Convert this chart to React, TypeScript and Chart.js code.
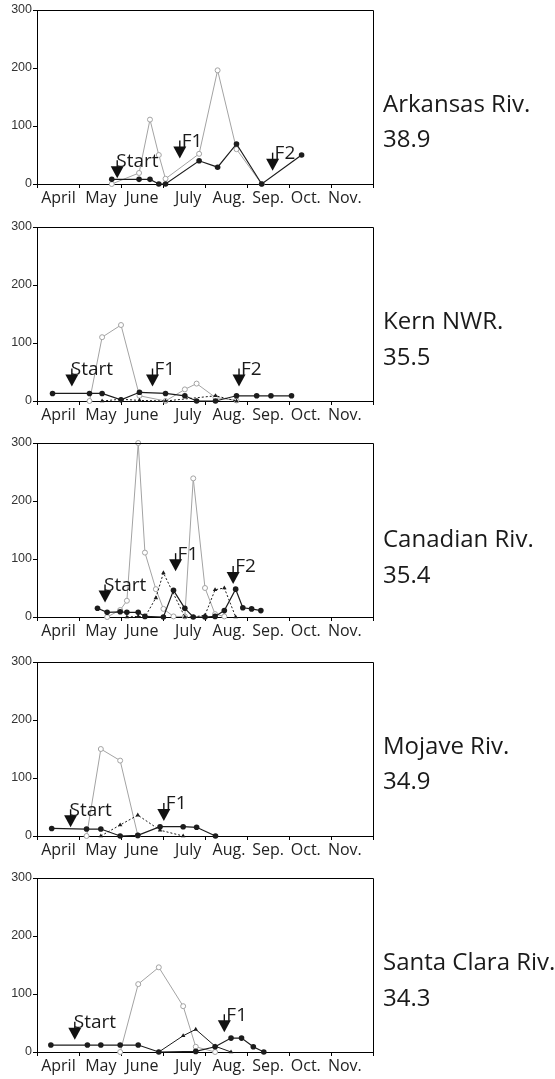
import React, { useEffect, useRef } from 'react';
import { Chart, registerables } from 'chart.js';

Chart.register(...registerables);

// ---------- shared axis data ----------
const months = ['April', 'May', 'June', 'July', 'Aug.', 'Sep.', 'Oct.', 'Nov.'];
const monthLabelAt = [0.51, 1.52, 2.5, 3.6, 4.57, 5.5, 6.4, 7.33];
const monthBounds = [0, 1, 2, 3, 4, 5, 6, 7, 8];
const yTickValues = [0, 100, 200, 300];

// ---------- Arkansas Riv. ----------
const arkBlackX = [1.78, 2.43, 2.69, 2.9, 3.06, 3.86, 4.3, 4.75, 5.35, 6.3];
const arkBlackY = [8, 8, 8, 0, 0, 40, 29, 69, 0, 50];
const arkGreyX = [1.78, 2.43, 2.69, 2.9, 3.06, 3.86, 4.3, 4.75, 5.35];
const arkGreyY = [0, 19, 111, 50, 9, 52, 196, 60, 0];
const arkArrowX = [1.91, 3.4, 5.61];
const arkArrowY = [10, 44, 23];
const arkArrowText = ['Start', 'F1', 'F2'];

// ---------- Kern NWR. ----------
const kernBlackX = [0.37, 1.25, 1.55, 2.0, 2.44, 3.06, 3.52, 3.8, 4.25, 4.75, 5.23, 5.57, 6.06];
const kernBlackY = [13, 13, 13, 2, 15, 13, 9, 0, 0, 9, 9, 9, 9];
const kernGreyX = [1.25, 1.55, 2.0, 2.44, 3.06, 3.52, 3.8, 4.25, 4.75];
const kernGreyY = [0, 110, 131, 9, 0, 20, 30, 6, 1];
const kernTriX = [1.55, 2.0, 2.44, 3.06, 4.25, 4.75];
const kernTriY = [0, 3, 1, 0, 9, 0];
const kernArrowX = [0.83, 2.75, 4.81];
const kernArrowY = [25, 25, 25];
const kernArrowText = ['Start', 'F1', 'F2'];

// ---------- Canadian Riv. ----------
const canBlackX = [1.44, 1.67, 1.98, 2.14, 2.41, 2.57, 3.01, 3.25, 3.52, 3.72, 4.0, 4.24, 4.46, 4.73, 4.9, 5.11, 5.33];
const canBlackY = [15, 8, 9, 8, 8, 1, 0, 46, 15, 0, 0, 1, 11, 48, 16, 14, 11];
const canGreyX = [1.67, 1.98, 2.14, 2.41, 2.57, 2.83, 3.01, 3.25, 3.52, 3.72, 4.0, 4.24, 4.46];
const canGreyY = [0, 12, 28, 300, 111, 48, 14, 1, 1, 239, 50, 5, 1];
const canTriX = [2.14, 2.41, 2.57, 2.83, 3.01, 3.52, 3.72, 4.0, 4.24, 4.46, 4.73];
const canTriY = [0, 1, 0, 33, 76, 0, 0, 3, 47, 50, 0];
const canArrowX = [1.62, 3.3, 4.67];
const canArrowY = [25, 79, 57];
const canArrowText = ['Start', 'F1', 'F2'];

// ---------- Mojave Riv. ----------
const mojBlackX = [0.35, 1.18, 1.52, 1.98, 2.4, 2.93, 3.48, 3.8, 4.25];
const mojBlackY = [13, 12, 12, 0, 1, 16, 16, 15, 0];
const mojGreyX = [1.18, 1.52, 1.98, 2.4];
const mojGreyY = [0, 150, 130, 1];
const mojTriX = [1.52, 1.98, 2.4, 2.93, 3.48];
const mojTriY = [0, 19, 36, 10, 0];
const mojArrowX = [0.8, 3.02];
const mojArrowY = [15, 26];
const mojArrowText = ['Start', 'F1'];

// ---------- Santa Clara Riv. ----------
const scBlackX = [0.33, 1.2, 1.52, 1.98, 2.41, 2.9, 3.78, 4.24, 4.62, 4.87, 5.15, 5.4];
const scBlackY = [12, 12, 12, 12, 12, 0, 1, 9, 24, 24, 9, 0];
const scGreyX = [1.98, 2.41, 2.9, 3.48, 3.78, 4.24];
const scGreyY = [0, 117, 146, 79, 9, 0];
const scTriX = [2.9, 3.48, 3.78, 4.24, 4.62];
const scTriY = [0, 28, 39, 10, 0];
const scArrowX = [0.9, 4.46];
const scArrowY = [21, 34];
const scArrowText = ['Start', 'F1'];

// ---------- site labels ----------
const siteNames = ['Arkansas Riv.', 'Kern NWR.', 'Canadian Riv.', 'Mojave Riv.', 'Santa Clara Riv.'];
const siteValues = ['38.9', '35.5', '35.4', '34.9', '34.3'];

type Panel = {
  blackX: number[]; blackY: number[];
  greyX: number[]; greyY: number[];
  triX: number[] | null; triY: number[] | null; triDashed: boolean;
  arrowX: number[]; arrowY: number[]; arrowText: string[];
};

const panels: Panel[] = [
  { blackX: arkBlackX, blackY: arkBlackY, greyX: arkGreyX, greyY: arkGreyY, triX: null, triY: null, triDashed: true, arrowX: arkArrowX, arrowY: arkArrowY, arrowText: arkArrowText },
  { blackX: kernBlackX, blackY: kernBlackY, greyX: kernGreyX, greyY: kernGreyY, triX: kernTriX, triY: kernTriY, triDashed: true, arrowX: kernArrowX, arrowY: kernArrowY, arrowText: kernArrowText },
  { blackX: canBlackX, blackY: canBlackY, greyX: canGreyX, greyY: canGreyY, triX: canTriX, triY: canTriY, triDashed: true, arrowX: canArrowX, arrowY: canArrowY, arrowText: canArrowText },
  { blackX: mojBlackX, blackY: mojBlackY, greyX: mojGreyX, greyY: mojGreyY, triX: mojTriX, triY: mojTriY, triDashed: true, arrowX: mojArrowX, arrowY: mojArrowY, arrowText: mojArrowText },
  { blackX: scBlackX, blackY: scBlackY, greyX: scGreyX, greyY: scGreyY, triX: scTriX, triY: scTriY, triDashed: false, arrowX: scArrowX, arrowY: scArrowY, arrowText: scArrowText },
];

// ---------- layout ----------
const PAGE_W = 555;
const CANVAS_H = 214;
const plotTops = [10, 227, 443, 662, 878];
const nameCenters = [103, 320, 538, 745, 961];
const valueCenters = [138, 356, 574, 780, 997];
const BLACK = '#1c1c1c';
const GREY = '#a3a3a3';
const TEXT_FONT = '"Open Sans", "Noto Sans", sans-serif';

const pts = (xs: number[], ys: number[]) => xs.map((x, i) => ({ x, y: ys[i] }));

function makeChart(canvas: HTMLCanvasElement, p: Panel) {
  const datasets: any[] = [
    {
      data: pts(p.blackX, p.blackY),
      borderColor: BLACK, borderWidth: 1.2,
      pointRadius: 2.8, pointBackgroundColor: BLACK, pointBorderWidth: 0,
      clip: false,
    },
  ];
  if (p.triX && p.triY) {
    datasets.push({
      data: pts(p.triX, p.triY),
      borderColor: BLACK, borderWidth: 1, borderDash: p.triDashed ? [2, 2] : [],
      pointStyle: 'triangle', pointRadius: 2.6, pointBackgroundColor: BLACK, pointBorderWidth: 0,
      clip: false,
    });
  }
  datasets.push({
    data: pts(p.greyX, p.greyY),
    borderColor: GREY, borderWidth: 1,
    pointRadius: 2.5, pointBackgroundColor: '#ffffff', pointBorderColor: GREY, pointBorderWidth: 1,
    clip: false,
  });

  const boxPlugin = {
    id: 'box',
    afterDraw(chart: any) {
      const { ctx, chartArea: a } = chart;
      ctx.save();
      ctx.strokeStyle = '#000';
      ctx.lineWidth = 1;
      ctx.beginPath();
      ctx.moveTo(Math.round(a.left) + 0.5, Math.round(a.top) + 0.5);
      ctx.lineTo(Math.round(a.right) + 0.5, Math.round(a.top) + 0.5);
      ctx.lineTo(Math.round(a.right) + 0.5, Math.round(a.bottom) + 0.5);
      ctx.stroke();
      ctx.restore();
    },
  };

  const arrowPlugin = {
    id: 'arrows',
    afterDatasetsDraw(chart: any) {
      const { ctx } = chart;
      const xs = chart.scales.x;
      const ys = chart.scales.y;
      ctx.save();
      p.arrowX.forEach((ax, i) => {
        const px = xs.getPixelForValue(ax);
        const py = ys.getPixelForValue(p.arrowY[i]);
        const headH = 12;
        const headW = 13;
        ctx.fillStyle = '#111';
        ctx.strokeStyle = '#111';
        ctx.lineWidth = 1.4;
        ctx.beginPath();
        ctx.moveTo(px, py - headH - 6);
        ctx.lineTo(px, py - headH + 1);
        ctx.stroke();
        ctx.beginPath();
        ctx.moveTo(px - headW / 2, py - headH);
        ctx.lineTo(px + headW / 2, py - headH);
        ctx.lineTo(px, py);
        ctx.closePath();
        ctx.fill();
        const label = p.arrowText[i];
        ctx.font = `19px ${TEXT_FONT}`;
        ctx.textBaseline = 'alphabetic';
        ctx.textAlign = 'left';
        ctx.fillStyle = '#1a1a1a';
        ctx.fillText(label, px + (label === 'Start' ? -1 : 2), py - headH + 0.5);
      });
      ctx.restore();
    },
  };

  return new Chart(canvas, {
    type: 'line',
    data: { datasets },
    options: {
      animation: false,
      responsive: false,
      maintainAspectRatio: false,
      events: [],
      layout: { padding: { top: 10, right: PAGE_W - 373, left: 0, bottom: 0 } },
      plugins: { legend: { display: false }, tooltip: { enabled: false } },
      scales: {
        x: {
          type: 'linear',
          min: 0,
          max: 8,
          afterBuildTicks: (scale: any) => {
            const vals = [...monthBounds, ...monthLabelAt].sort((a, b) => a - b);
            scale.ticks = vals.map((v) => ({ value: v }));
          },
          afterFit: (scale: any) => { scale.height = 30; },
          ticks: {
            autoSkip: false,
            maxRotation: 0,
            minRotation: 0,
            padding: 1,
            color: '#222',
            font: { family: TEXT_FONT, size: 16 },
            callback: (v: any) => {
              const idx = monthLabelAt.indexOf(Number(v));
              return idx >= 0 ? months[idx] : '';
            },
          },
          grid: {
            drawOnChartArea: false,
            tickLength: 4,
            color: (c: any) => (c.tick && monthBounds.includes(c.tick.value) ? '#000' : 'rgba(0,0,0,0)'),
          },
          border: { color: '#000', width: 1 },
        },
        y: {
          type: 'linear',
          min: 0,
          max: 300,
          afterBuildTicks: (scale: any) => {
            scale.ticks = yTickValues.map((v) => ({ value: v }));
          },
          afterFit: (scale: any) => { scale.width = 37; },
          ticks: {
            padding: 1,
            color: '#333',
            font: { family: '"Liberation Sans", Arial, sans-serif', size: 12.5 },
          },
          grid: { drawOnChartArea: false, tickLength: 4, color: '#000' },
          border: { color: '#000', width: 1 },
        },
      },
    },
    plugins: [boxPlugin, arrowPlugin],
  } as any);
}

function PanelChart({ p, top }: { p: Panel; top: number }) {
  const ref = useRef<HTMLCanvasElement | null>(null);
  useEffect(() => {
    if (!ref.current) return;
    const chart = makeChart(ref.current, p);
    return () => chart.destroy();
  }, [p]);
  return (
    <canvas
      ref={ref}
      width={PAGE_W}
      height={CANVAS_H}
      style={{ position: 'absolute', left: 0, top: top - 10, width: PAGE_W, height: CANVAS_H }}
    />
  );
}

export default function App() {
  return (
    <div style={{ position: 'absolute', left: 0, top: 0, width: PAGE_W, height: 1079, background: '#fff', overflow: 'hidden' }}>
      {panels.map((p, i) => (
        <PanelChart key={i} p={p} top={plotTops[i]} />
      ))}
      {siteNames.map((n, i) => (
        <React.Fragment key={n}>
          <div style={{ position: 'absolute', left: 383, top: nameCenters[i] - 14, fontFamily: TEXT_FONT, fontSize: 24, lineHeight: '28px', color: '#1a1a1a', whiteSpace: 'nowrap' }}>{n}</div>
          <div style={{ position: 'absolute', left: 383, top: valueCenters[i] - 14, fontFamily: TEXT_FONT, fontSize: 24, lineHeight: '28px', color: '#1a1a1a', whiteSpace: 'nowrap' }}>{siteValues[i]}</div>
        </React.Fragment>
      ))}
    </div>
  );
}
